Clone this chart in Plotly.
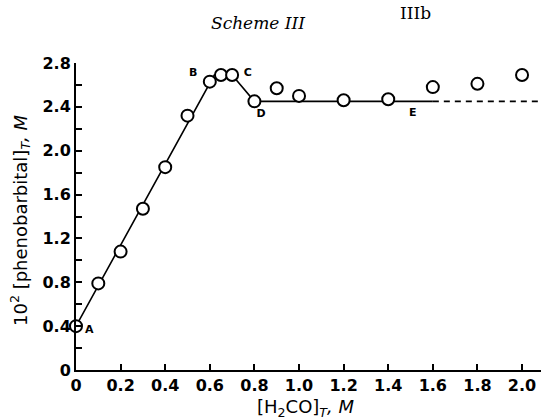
import plotly.graph_objects as go

# Data
conc_h2co = [0.0, 0.1, 0.2, 0.3, 0.4, 0.5, 0.6, 0.65, 0.7, 0.8, 0.9, 1.0, 1.2, 1.4, 1.6, 1.8, 2.0]
phenobarb = [0.40, 0.79, 1.08, 1.47, 1.85, 2.32, 2.63, 2.69, 2.69, 2.45, 2.57, 2.50, 2.46, 2.47, 2.58, 2.61, 2.69]

fit_x = [0.0, 0.62, 0.70, 0.80, 1.60]
fit_y = [0.40, 2.69, 2.69, 2.45, 2.45]
dash_x = [1.60, 2.09]
dash_y = [2.45, 2.45]

label_text = ["A", "B", "C", "D", "E"]
label_x = [0.06, 0.525, 0.77, 0.83, 1.51]
label_y = [0.36, 2.71, 2.71, 2.33, 2.34]

x_ticks = [0, 0.2, 0.4, 0.6, 0.8, 1.0, 1.2, 1.4, 1.6, 1.8, 2.0]
x_ticktext = ["0", "0.2", "0.4", "0.6", "0.8", "1.0", "1.2", "1.4", "1.6", "1.8", "2.0"]
y_ticks = [0, 0.4, 0.8, 1.2, 1.6, 2.0, 2.4, 2.8]
y_ticktext = ["0", "0.4", "0.8", "1.2", "1.6", "2.0", "2.4", "2.8"]

fig = go.Figure()
fig.add_trace(go.Scatter(x=fit_x, y=fit_y, mode="lines",
                         line=dict(color="black", width=1.6), hoverinfo="skip"))
fig.add_trace(go.Scatter(x=dash_x, y=dash_y, mode="lines",
                         line=dict(color="black", width=1.6, dash="6px,5px"), hoverinfo="skip"))
fig.add_trace(go.Scatter(x=conc_h2co, y=phenobarb, mode="markers",
                         marker=dict(symbol="circle", size=12, color="white",
                                     line=dict(color="black", width=2)),
                         cliponaxis=False))
fig.add_trace(go.Scatter(x=label_x, y=label_y, mode="text", text=label_text,
                         textfont=dict(family="DejaVu Sans", size=11, color="black", weight="bold"),
                         cliponaxis=False))

tickfont = dict(family="DejaVu Sans", size=16, color="black", weight="bold")
fig.update_xaxes(range=[0, 2.085], tickvals=x_ticks, ticktext=x_ticktext,
                 ticks="inside", ticklen=6, tickwidth=1.5, tickcolor="black",
                 showline=True, linecolor="black", linewidth=2,
                 showgrid=False, zeroline=False, tickfont=tickfont)
fig.update_yaxes(range=[0, 2.8], tickvals=y_ticks, ticktext=y_ticktext,
                 ticks="inside", ticklen=6, tickwidth=1.5, tickcolor="black",
                 minor=dict(dtick=0.2, ticks="inside", ticklen=6, tickwidth=1.5, tickcolor="black"),
                 showline=True, linecolor="black", linewidth=2,
                 showgrid=False, zeroline=False, tickfont=tickfont)

W, H = 541 - 76, 419 - 63 - 49


def px(xp):
    return (xp - 76) / W


def py(yp):
    return (370 - yp) / H


fig.update_layout(
    width=541, height=419,
    margin=dict(l=76, r=0, t=63, b=49),
    paper_bgcolor="white", plot_bgcolor="white",
    showlegend=False,
    annotations=[
        dict(text="<i>Scheme III</i>", x=px(258), y=py(23), xref="paper", yref="paper",
             xanchor="center", yanchor="middle", showarrow=False,
             font=dict(family="DejaVu Serif", size=17, color="black")),
        dict(text="IIIb", x=px(415), y=py(1), xref="paper", yref="paper",
             xanchor="center", yanchor="top", showarrow=False,
             font=dict(family="DejaVu Serif", size=17, color="black")),
        dict(text="10<sup>2</sup> [phenobarbital]<i><sub>T</sub>, M</i>", textangle=-90,
             x=px(20), y=py(220), xref="paper", yref="paper",
             xanchor="center", yanchor="middle", showarrow=False,
             font=dict(family="DejaVu Sans", size=18, color="black")),
        dict(text="[H<sub>2</sub>CO]<i><sub>T</sub>, M</i>", x=px(305), y=py(408),
             xref="paper", yref="paper", xanchor="center", yanchor="middle", showarrow=False,
             font=dict(family="DejaVu Sans", size=18, color="black")),
    ],
)

fig.write_html("out.html")
